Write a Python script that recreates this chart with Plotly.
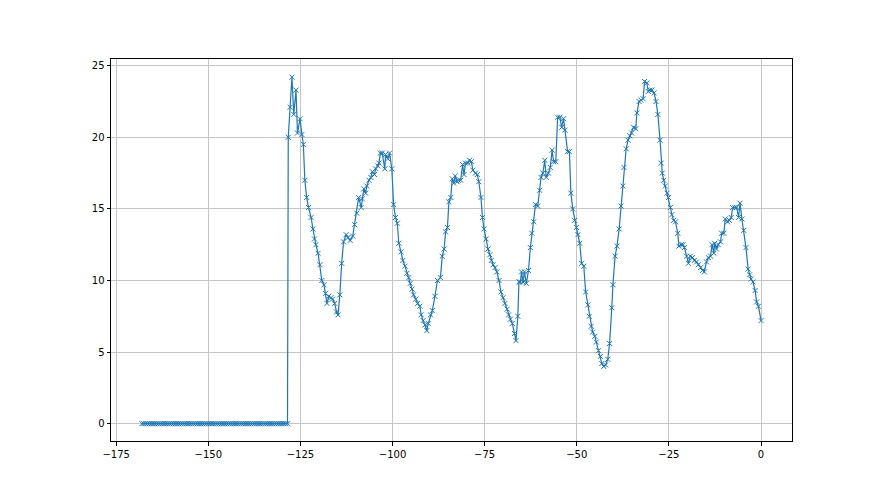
import plotly.graph_objects as go

# Flat (zero) segment
zero_x = [-168.0, -167.5, -167.0, -166.5, -166.0, -165.5, -165.0, -164.5, -164.0, -163.5,
          -163.0, -162.5, -162.0, -161.5, -161.0, -160.5, -160.0, -159.5, -159.0, -158.5,
          -158.0, -157.5, -157.0, -156.5, -156.0, -155.5, -155.0, -154.5, -154.0, -153.5,
          -153.0, -152.5, -152.0, -151.5, -151.0, -150.5, -150.0, -149.5, -149.0, -148.5,
          -148.0, -147.5, -147.0, -146.5, -146.0, -145.5, -145.0, -144.5, -144.0, -143.5,
          -143.0, -142.5, -142.0, -141.5, -141.0, -140.5, -140.0, -139.5, -139.0, -138.5,
          -138.0, -137.5, -137.0, -136.5, -136.0, -135.5, -135.0, -134.5, -134.0, -133.5,
          -133.0, -132.5, -132.0, -131.5, -131.0, -130.5, -130.0, -129.5, -129.0, -128.5]
zero_y = [0.0] * len(zero_x)

# Active segment (x, y) pairs
wave_x = [-128.3, -127.8, -127.3, -126.8, -126.2, -125.8, -125.1, -124.6, -124.2, -123.8,
          -123.3, -122.8, -122.1, -121.6, -121.2, -120.8, -120.2, -119.7, -119.2, -118.6,
          -118.2, -117.8, -117.3, -116.7, -116.3, -115.7, -115.2, -114.8, -114.3, -113.8,
          -113.3, -112.6, -112.1, -111.5, -110.8, -110.3, -109.7, -109.2,
          -108.5, -108.2, -107.8, -107.3, -107.0, -106.4, -105.9, -105.5, -104.9, -104.6,
          -104.0, -103.7, -103.3, -102.8, -102.1, -101.9, -101.3, -100.8, -100.2, -99.7,
          -99.2, -98.7, -98.3, -97.7, -97.2, -96.6, -96.1, -95.6, -95.2, -94.7,
          -94.3, -93.7, -93.2, -92.6, -92.2, -91.7, -91.2, -90.7, -90.3, -89.7,
          -89.2, -88.5, -87.8,
          -87.0, -86.5, -86.0, -85.6, -85.1, -84.7, -84.2, -83.8, -83.4, -83.0,
          -82.5, -82.1, -81.5, -81.0, -80.6, -80.2, -79.6, -79.1, -78.6, -78.2,
          -77.5, -77.0, -76.6, -76.0, -75.6, -75.2, -74.6, -74.1, -73.6, -73.2,
          -72.7, -72.2, -71.7, -71.1, -70.6, -70.0, -69.5, -68.9, -68.5, -68.0,
          -67.5, -66.9, -66.5, -66.0, -65.7,
          -65.3, -65.0, -64.6, -64.2, -63.7, -63.1, -62.6, -62.2, -61.7, -61.2,
          -60.6, -60.1, -59.7, -59.2, -58.7, -58.3, -57.7, -57.2, -56.7, -56.3,
          -55.7, -55.2, -54.6, -54.1, -53.6, -53.2, -52.5, -52.0, -51.6, -51.1,
          -50.6, -50.1, -49.7, -49.2, -48.7, -48.1, -47.6, -47.0, -46.6, -46.1,
          -45.7, -45.1, -44.7, -44.1,
          -43.6, -43.2, -42.7, -42.2, -41.6, -41.1, -40.5, -40.2, -39.6, -39.1,
          -38.5, -38.0, -37.5, -37.2, -36.6, -36.1, -35.6, -35.1, -34.6, -34.0,
          -33.7, -33.1, -32.6, -32.0, -31.6, -31.0, -30.6, -30.1, -29.6, -29.0,
          -28.5, -28.0, -27.4, -27.1, -26.8, -26.4, -26.0, -25.5, -25.1, -24.6,
          -24.2, -23.7, -23.2, -22.6, -22.3,
          -21.6, -21.2, -20.8, -20.2, -19.7, -19.2, -18.6, -18.1, -17.5, -17.0,
          -16.4, -15.9, -15.4, -14.8, -14.3, -13.7, -13.3, -12.8, -12.6, -12.1,
          -11.6, -11.0, -10.7, -10.1, -9.7, -9.1, -8.6, -8.1, -7.7, -7.1,
          -6.6, -6.1, -5.7, -5.2, -4.7, -4.1, -3.5, -3.1, -2.7, -2.2,
          -1.6, -1.2, -0.7, 0.0]
wave_y = [20.0, 22.1, 24.2, 21.6, 23.3, 20.3, 21.3, 20.2, 19.5, 17.0,
          15.8, 15.1, 14.4, 13.6, 12.9, 12.5, 11.9, 11.1, 10.0, 9.7,
          9.1, 8.4, 8.9, 8.8, 8.7, 8.4, 7.8, 7.6, 9.0, 11.2,
          12.7, 13.2, 13.0, 12.8, 13.1, 13.9, 14.7, 15.8,
          15.1, 15.7, 16.4, 16.1, 16.6, 17.0, 17.2, 17.6, 17.4, 17.8,
          18.0, 18.2, 18.9, 18.9, 17.8, 18.8, 18.5, 18.9, 17.8, 15.3,
          14.4, 14.0, 12.6, 12.0, 11.4, 11.0, 10.5, 10.2, 9.8, 9.4,
          9.0, 8.7, 8.4, 8.2, 7.6, 7.2, 6.9, 6.5, 7.0, 7.6,
          7.9, 8.9, 10.0,
          10.2, 11.7, 12.2, 13.4, 13.7, 15.5, 15.8, 17.1, 16.8, 17.3,
          16.9, 17.0, 17.0, 18.1, 17.4, 18.2, 18.2, 18.4, 18.3, 17.7,
          17.5, 17.4, 16.9, 15.8, 14.4, 13.6, 12.9, 12.2, 11.8, 11.4,
          11.1, 10.9, 10.6, 10.0, 9.2, 8.8, 8.4, 8.0, 7.6, 7.3,
          7.0, 6.3, 5.8, 7.5, 9.9,
          9.9, 10.6, 9.9, 10.6, 9.8, 10.7, 12.3, 13.3, 14.1, 15.3,
          15.2, 16.3, 17.2, 17.5, 18.4, 17.2, 17.5, 17.9, 19.1, 18.3,
          18.3, 21.4, 21.4, 20.7, 21.3, 20.5, 19.0, 19.0, 16.1, 15.0,
          14.2, 13.7, 13.2, 12.6, 11.2, 11.0, 9.2, 8.3, 7.5, 6.8,
          6.4, 6.1, 5.7, 5.1,
          4.7, 4.2, 4.0, 4.1, 4.5, 5.6, 8.1, 9.7, 11.7, 12.4,
          13.6, 15.2, 16.6, 17.9, 19.2, 19.8, 20.1, 20.3, 20.7, 20.6,
          21.7, 22.5, 22.6, 22.7, 23.9, 23.8, 23.2, 23.3, 23.3, 23.1,
          22.5, 21.6, 19.8, 18.2, 17.5, 17.0, 16.6, 16.1, 15.8, 15.1,
          14.6, 14.2, 14.1, 13.3, 12.4,
          12.5, 12.5, 12.3, 11.7, 11.2, 11.7, 11.6, 11.4, 11.3, 11.1,
          10.9, 10.7, 10.6, 11.3, 11.6, 11.7, 12.5, 11.9, 12.6, 12.2,
          12.5, 12.7, 13.3, 13.3, 14.3, 14.1, 14.2, 14.4, 15.1, 15.1,
          15.1, 14.4, 15.4, 14.3, 13.5, 12.3, 10.8, 10.4, 10.1, 9.9,
          9.3, 8.5, 8.2, 7.2]

x_ticks = [-175, -150, -125, -100, -75, -50, -25, 0]
y_ticks = [0, 5, 10, 15, 20, 25]

xs = zero_x + wave_x
ys = zero_y + wave_y

color = "#1f77b4"
fig = go.Figure()
fig.add_trace(go.Scatter(
    x=xs, y=ys, mode="lines+markers",
    line=dict(color=color, width=1.2),
    marker=dict(symbol="x-thin", size=5, color=color,
                line=dict(color=color, width=1)),
    showlegend=False, hoverinfo="skip",
))

def fmt(v):
    return ("\u2212" + str(abs(v))) if v < 0 else str(v)

axis_common = dict(
    showgrid=True, gridcolor="#c4c4c4", gridwidth=0.8,
    zeroline=False, showline=True, linecolor="black", linewidth=1,
    mirror=True, ticks="outside", ticklen=3.5, tickwidth=0.8, tickcolor="black",
    tickfont=dict(family="DejaVu Sans", size=10, color="black"),
)
fig.update_xaxes(range=[-176.4, 8.4], tickvals=x_ticks,
                 ticktext=[fmt(v) for v in x_ticks], **axis_common)
fig.update_yaxes(range=[-1.21, 25.47], tickvals=y_ticks,
                 ticktext=[fmt(v) for v in y_ticks], **axis_common)

fig.update_layout(
    width=880, height=495,
    margin=dict(l=103, r=96, t=51, b=62),
    plot_bgcolor="white", paper_bgcolor="white",
    font=dict(family="DejaVu Sans", size=10, color="black"),
)

fig.write_html("out.html")
